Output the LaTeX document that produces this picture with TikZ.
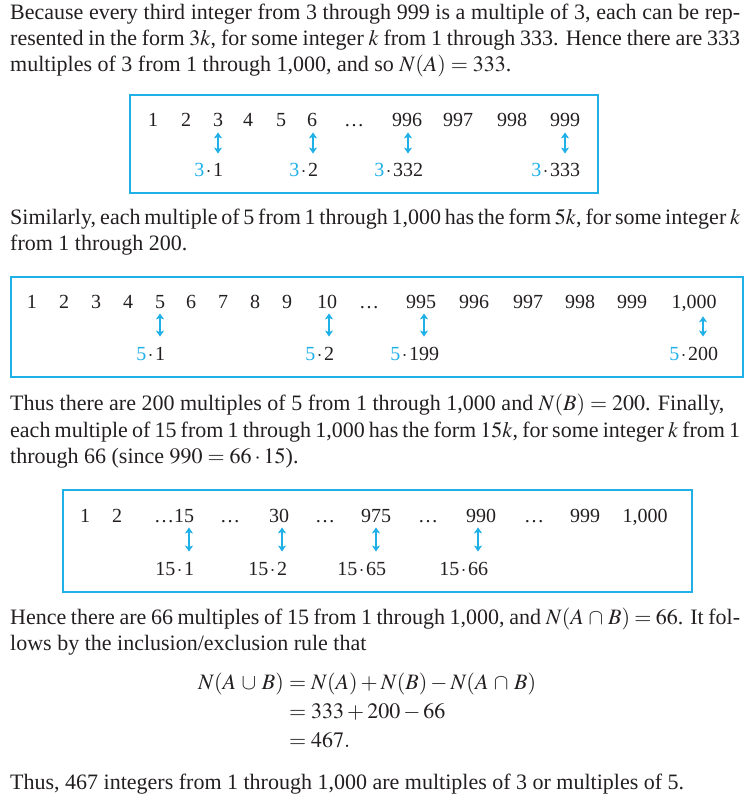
\documentclass[tikz,border=0pt]{standalone}
\usepackage{mathptmx}
\usepackage[no-math]{fontspec}
\setmainfont{Liberation Serif}
\usetikzlibrary{arrows.meta}
\definecolor{cy}{RGB}{32,176,232}
\definecolor{ink}{RGB}{35,31,32}
\newcommand{\xcap}{\mskip2mu\cap\mskip2mu}
\newcommand{\xcup}{\mskip2mu\cup\mskip2mu}
\newcommand{\xdot}{\kern1.6pt$\cdot$\kern1.6pt}
\begin{document}
\begin{tikzpicture}[x=1pt,y=-1pt,
  txt/.style={anchor=base west, inner sep=0pt, text=ink, font=\fontsize{22}{26}\selectfont},
  num/.style={anchor=base, inner sep=0pt, text=ink, font=\fontsize{20}{24}\selectfont},
  lab/.style={anchor=base, inner sep=0pt, text=ink, font=\fontsize{20}{24}\selectfont},
  eq/.style={inner sep=0pt, text=ink, font=\fontsize{22}{26}\selectfont},
  frame/.style={draw=cy, line width=1.3pt},
  dbl/.style={draw=cy, line width=1.4pt, shorten <=5pt, shorten >=10pt,
    {Stealth[length=6pt,width=8pt,inset=1.5pt]}-{Stealth[length=6pt,width=8pt,inset=1.5pt]}}]
\useasboundingbox (0,0) rectangle (753,805);

% paragraph 1
\node[txt] (p1a) at (10,20) {\makebox[730pt][s]{Because every third integer from 3 through 999 is a multiple of 3, each can be rep-}};
\node[txt] (p1b) at (10,46) {\makebox[730pt][s]{resented in the form $3k$, for some integer $k$ from 1 through 333. Hence there are 333}};
\node[txt] (p1c) at (10,72) {multiples of 3 from 1 through 1,000, and so $N(A) = 333$.};

% box 1
\draw[frame] (130,95) rectangle (598,193);
\node[num] (a1) at (153,127) {1};
\node[num] (a2) at (186,127) {2};
\node[num] (a3) at (218,127) {3};
\node[num] (a4) at (248,127) {4};
\node[num] (a5) at (281,127) {5};
\node[num] (a6) at (312,127) {6};
\node[num] (ad) at (354,127) {\dots};
\node[num] (a996) at (407,127) {996};
\node[num] (a997) at (458,127) {997};
\node[num] (a998) at (512,127) {998};
\node[num] (a999) at (565,127) {999};
\node[lab] (la1) at (218,177) {\llap{\textcolor{cy}{3}\xdot}1};
\node[lab] (la2) at (313,177) {\llap{\textcolor{cy}{3}\xdot}2};
\node[lab] (la3) at (408,177) {\llap{\textcolor{cy}{3}\xdot}332};
\node[lab] (la4) at (565,177) {\llap{\textcolor{cy}{3}\xdot}333};
\draw[dbl] (a3.south -| la1.north) -- (la1.north);
\draw[dbl] (a6.south -| la2.north) -- (la2.north);
\draw[dbl] (a996.south -| la3.north) -- (la3.north);
\draw[dbl] (a999.south -| la4.north) -- (la4.north);

% paragraph 2
\node[txt] (p2a) at (10,224) {\makebox[730pt][s]{Similarly, each multiple of 5 from 1 through 1,000 has the form $5k$, for some integer $k$}};
\node[txt] (p2b) at (10,250) {from 1 through 200.};

% box 2
\draw[frame] (11,277) rectangle (743,377);
\node[num] (b1) at (32,308) {1};
\node[num] (b2) at (64,308) {2};
\node[num] (b3) at (96,308) {3};
\node[num] (b4) at (128,308) {4};
\node[num] (b5) at (160,308) {5};
\node[num] (b6) at (191,308) {6};
\node[num] (b7) at (223,308) {7};
\node[num] (b8) at (255,308) {8};
\node[num] (b9) at (287,308) {9};
\node[num] (b10) at (327,308) {10};
\node[num] (bd) at (369,308) {\dots};
\node[num] (b995) at (421,308) {995};
\node[num] (b996) at (474,308) {996};
\node[num] (b997) at (528,308) {997};
\node[num] (b998) at (580,308) {998};
\node[num] (b999) at (632,308) {999};
\node[num] (b1000) at (694,308) {1,000};
\node[lab] (lb1) at (160,360) {\llap{\textcolor{cy}{5}\xdot}1};
\node[lab] (lb2) at (329,360) {\llap{\textcolor{cy}{5}\xdot}2};
\node[lab] (lb3) at (424,360) {\llap{\textcolor{cy}{5}\xdot}199};
\node[lab] (lb4) at (703,360) {\llap{\textcolor{cy}{5}\xdot}200};
\draw[dbl] (b5.south -| lb1.north) -- (lb1.north);
\draw[dbl] (b10.south -| lb2.north) -- (lb2.north);
\draw[dbl] (b995.south -| lb3.north) -- (lb3.north);
\draw[dbl] (b1000.south -| lb4.north) -- (lb4.north);

% paragraph 3
\node[txt] (p3a) at (10,410) {Thus there are 200 multiples of 5 from 1 through 1,000 and $N(B) = 200$. Finally,};
\node[txt] (p3b) at (10,437) {\makebox[730pt][s]{each multiple of 15 from 1 through 1,000 has the form $15k$, for some integer $k$ from 1}};
\node[txt] (p3c) at (10,463) {through 66 (since $990 = 66\cdot 15$).};

% box 3
\draw[frame] (63,490) rectangle (692,592);
\node[num] (c1) at (85,522) {1};
\node[num] (c2) at (117,522) {2};
\node[num] (c15) at (184,522) {\llap{\dots}15};
\node[num] (cd1) at (230,522) {\dots};
\node[num] (c30) at (279,522) {30};
\node[num] (cd2) at (325,522) {\dots};
\node[num] (c975) at (376,522) {975};
\node[num] (cd3) at (428,522) {\dots};
\node[num] (c990) at (481,522) {990};
\node[num] (cd4) at (534,522) {\dots};
\node[num] (c999) at (585,522) {999};
\node[num] (c1000) at (645,522) {1,000};
\node[lab] (lc1) at (189,575) {\llap{15\xdot}1};
\node[lab] (lc2) at (282,575) {\llap{15\xdot}2};
\node[lab] (lc3) at (376,575) {\llap{15\xdot}65};
\node[lab] (lc4) at (478,575) {\llap{15\xdot}66};
\draw[dbl] (c15.south -| lc1.north) -- (lc1.north);
\draw[dbl] (c30.south -| lc2.north) -- (lc2.north);
\draw[dbl] (c975.south -| lc3.north) -- (lc3.north);
\draw[dbl] (c990.south -| lc4.north) -- (lc4.north);

% paragraph 4
\node[txt] (p4a) at (10,624) {\makebox[730pt][s]{Hence there are 66 multiples of 15 from 1 through 1,000, and $N(A\xcap B) = 66$. It fol-}};
\node[txt] (p4b) at (10,650) {lows by the inclusion/exclusion rule that};

% equations
\node[eq, anchor=base east] (e1l) at (284,689) {$N(A\xcup B)$};
\node[eq, anchor=base west] (e1r) at (284,689) {${}= N(A)+N(B)-N(A\xcap B)$};
\node[eq, anchor=base west] (e2) at (284,718) {${}= 333+200-66$};
\node[eq, anchor=base west] (e3) at (284,747) {${}= 467.$};

% final
\node[txt] (p5) at (10,789) {Thus, 467 integers from 1 through 1,000 are multiples of 3 or multiples of 5.};
\end{tikzpicture}
\end{document}
